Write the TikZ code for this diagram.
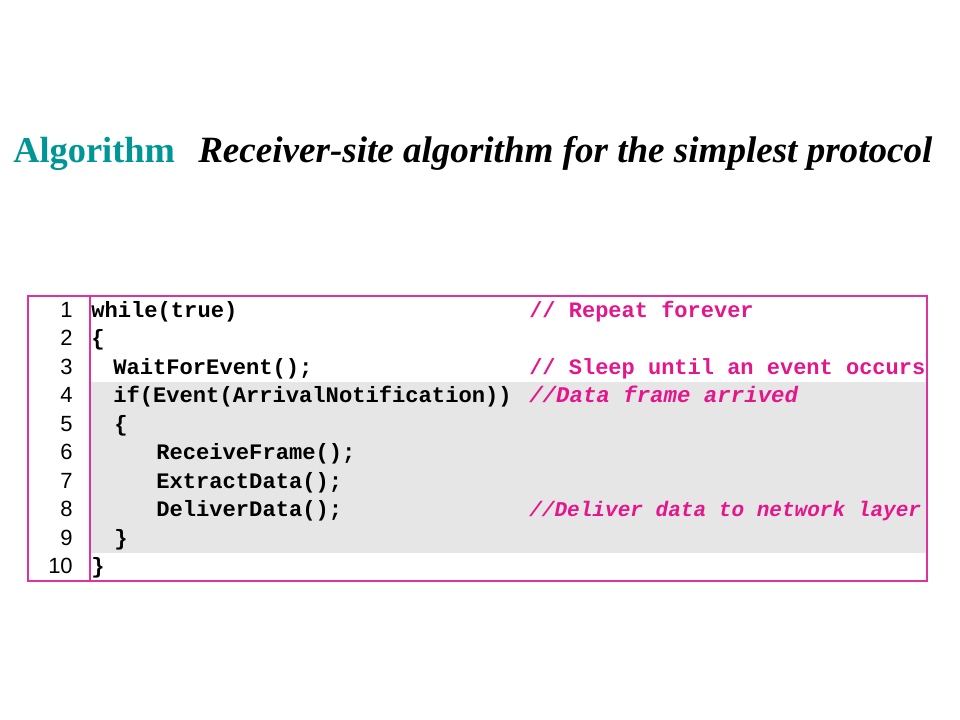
\documentclass[tikz,border=0pt]{standalone}
\usepackage{fontspec}
\setmainfont{Liberation Serif}
\newfontfamily\codefont{Liberation Mono}
\newfontfamily\numfont{Liberation Sans}
\definecolor{algoteal}{RGB}{0,150,150}
\definecolor{cmtpink}{RGB}{228,22,140}
\definecolor{boxpink}{RGB}{222,50,160}
\definecolor{bandgray}{RGB}{230,230,230}
\tikzset{
  codeline/.style={anchor=base west, inner sep=0pt, font=\codefont\bfseries\fontsize{16.6}{20}\selectfont},
  cmtline/.style={codeline, text=cmtpink, font=\codefont\bfseries\fontsize{16.5}{20}\selectfont},
  numline/.style={anchor=base east, inner sep=0pt, font=\numfont\fontsize{16.5}{19}\selectfont}
}

\begin{document}
\begin{tikzpicture}[x=0.75pt,y=-0.75pt]
		%%%%% START %%%%%
		\useasboundingbox (0,0) rectangle (960,720);
		
		\node[anchor=base west, inner sep=0pt, text=algoteal, font=\bfseries\fontsize{27.3}{32}\selectfont] (algo) at (13,163) {Algorithm};
		\node[anchor=base west, inner sep=0pt, font=\bfseries\itshape\fontsize{27.8}{32}\selectfont] (caption) at (198,163) {Receiver-site algorithm for the simplest protocol};
		
		\fill[bandgray] (91,381.5) rectangle (926,552.5);
		
		\foreach \i in {1,...,10}
			\node[numline] (num\i) at (73,{296+28.5*\i-7.5}) {\i};
		
		\node[codeline] (code1) at (91,{296+28.5*1-7.5}) {while(true)};
		\node[codeline] (code2) at (91,{296+28.5*2-7.5}) {\{};
		\node[codeline] (code3) at (113,{296+28.5*3-7.5}) {WaitForEvent();};
		\node[codeline] (code4) at (113,{296+28.5*4-7.5}) {if(Event(ArrivalNotification))};
		\node[codeline] (code5) at (114,{296+28.5*5-7.5}) {\{};
		\node[codeline] (code6) at (156,{296+28.5*6-7.5}) {ReceiveFrame();};
		\node[codeline] (code7) at (156,{296+28.5*7-7.5}) {ExtractData();};
		\node[codeline] (code8) at (156,{296+28.5*8-7.5}) {DeliverData();};
		\node[codeline] (code9) at (114,{296+28.5*9-7.5}) {\}};
		\node[codeline] (code10) at (91,{296+28.5*10-7.5}) {\}};
		
		\node[cmtline] (cmt1) at (529,{296+28.5*1-7.5}) {// Repeat forever};
		\node[cmtline] (cmt3) at (529,{296+28.5*3-7.5}) {// Sleep until an event occurs};
		\node[cmtline, font=\codefont\bfseries\itshape\fontsize{16.8}{20}\selectfont] (cmt4) at (529,{296+28.5*4-7.5}) {//Data frame arrived};
		\node[cmtline, font=\codefont\bfseries\itshape\fontsize{15.8}{20}\selectfont] (cmt8) at (529,{296+28.5*8-7.5}) {//Deliver data to network layer};
		
		\draw[line width=1.2pt, color=boxpink] (28,296) rectangle (927,581);
		\draw[line width=1.2pt, color=boxpink] (90,296) -- (90,581);
		
		%%%%% END %%%%%
	\end{tikzpicture}
\end{document}
